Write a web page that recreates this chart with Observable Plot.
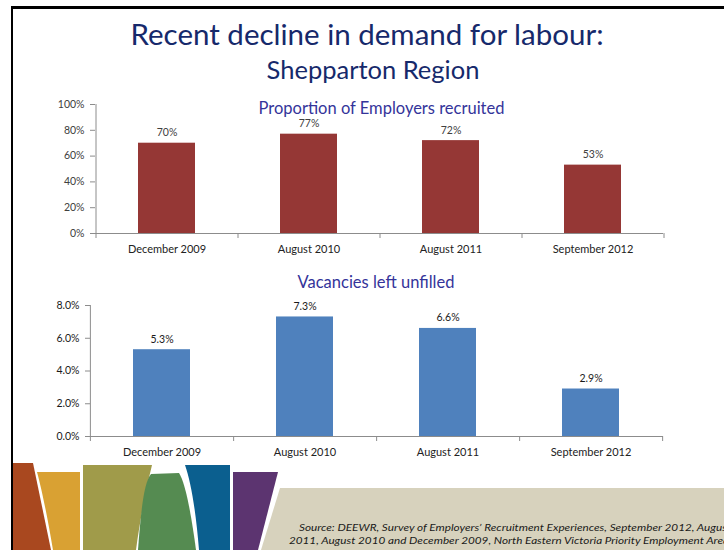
<!DOCTYPE html>
<html><head><meta charset="utf-8">
<script src="https://cdn.jsdelivr.net/npm/d3@7"></script>
<script src="https://cdn.jsdelivr.net/npm/@observablehq/plot@0.6"></script>
<style>
body{margin:0;background:#fff;}
#page{position:relative;width:724px;height:550px;overflow:hidden;font-family:Lato,sans-serif;background:#fff;}
.abs{position:absolute;}
#bl{left:11px;top:6px;width:2px;height:544px;background:#000;}
#bt{left:11px;top:6px;width:713px;height:2.5px;background:#000;}
#t1{left:0;width:734px;top:16px;text-align:center;font-size:29.5px;color:#16296b;line-height:36px;}
#t2{left:0;width:746px;top:54px;text-align:center;font-size:25.5px;color:#16296b;line-height:30px;}
.sub{font-size:16.5px;color:#34349a;text-align:center;line-height:20px;}
#s1{left:0;width:763px;top:98px;}
#s2{left:0;width:752px;top:272px;}
#c1{left:0;top:95px;}
#c2{left:0;top:295px;}
#deco{left:0;top:0;}
</style></head><body>
<div id="page">
  <div class="abs" id="t1">Recent decline in demand for labour:</div>
  <div class="abs" id="t2">Shepparton Region</div>
  <div class="abs" id="c1"></div>
  <div class="abs" id="c2"></div>
  <div class="abs sub" id="s1">Proportion of Employers recruited</div>
  <div class="abs sub" id="s2">Vacancies left unfilled</div>
  <svg class="abs" id="deco" width="724" height="550">
    <path d="M13,463 L33,463 L51,550 L13,550 Z" fill="#a9481f"/>
    <path d="M37,472 L80,472 L80,550 L53,550 C48,520 42,490 37,472 Z" fill="#d9a133"/>
    <path d="M83,465 L152,465 C146,490 140,520 136,550 L83,550 Z" fill="#a09b4a"/>
    <path d="M138,550 C141,510 144,482 151,474 L179,473 C185,482 191,512 196,550 Z" fill="#558b51"/>
    <path d="M185,465 L230,465 L230,550 L199,550 C196,512 191,482 185,465 Z" fill="#0b5f8f"/>
    <path d="M233,472 L278,472 L258,550 L233,550 Z" fill="#5c3470"/>
    <path d="M280,488 L724,488 L724,550 L261,550 Z" fill="#d7d2bd"/>
    <text x="299" y="531" font-family="Lato" font-style="italic" font-size="10" fill="#1a1a1a" textLength="432" lengthAdjust="spacingAndGlyphs">Source: DEEWR, Survey of Employers’ Recruitment Experiences, September 2012, August</text>
    <text x="289" y="544" font-family="Lato" font-style="italic" font-size="10" fill="#1a1a1a" textLength="440" lengthAdjust="spacingAndGlyphs">2011, August 2010 and December 2009,  North Eastern Victoria Priority Employment Area</text>
  </svg>
  <div class="abs" id="bl"></div>
  <div class="abs" id="bt"></div>
</div>
<script>
const categories = ["December 2009", "August 2010", "August 2011", "September 2012"];
const employersRecruited = [70, 77, 72, 53];
const vacanciesUnfilled = [5.3, 7.3, 6.6, 2.9];
const recruitedTicks = [0, 20, 40, 60, 80, 100];
const vacancyTicks = [0, 2, 4, 6, 8];

const axisColor = "#8c8c8c";

function makeChart({values, ticks, tickFmt, valueFmt, color, textColor, marginLeft, marginTop, marginBottom}) {
  const width = 724, height = 170, marginRight = 61;
  const data = categories.map((c, i) => ({cat: c, v: values[i]}));
  const step = (width - marginLeft - marginRight) / categories.length;
  const yMax = ticks[ticks.length - 1];
  return Plot.plot({
    width, height, marginLeft, marginRight, marginTop, marginBottom,
    style: {background: "transparent", fontFamily: "Lato, sans-serif", fontSize: "10.5px", color: textColor},
    x: {domain: categories, paddingInner: 0.6, paddingOuter: 0.3, label: null},
    y: {domain: [0, yMax], label: null},
    marks: [
      Plot.barY(data, {x: "cat", y: "v", fill: color}),
      Plot.ruleY([0], {stroke: axisColor}),
      Plot.ruleX([categories[0]], {dx: -step / 2, y1: yMax, y2: 0, insetBottom: -5, stroke: axisColor}),
      Plot.ruleX(categories, {x: d => d, dx: step / 2, y1: 0, y2: 0, insetBottom: -5, stroke: axisColor}),
      Plot.axisY({ticks, tickFormat: tickFmt, tickSize: 5, tickPadding: 6, stroke: axisColor, fill: textColor, label: null}),
      Plot.axisX({tickSize: 0, tickPadding: 12, fill: "#222", fontSize: 11, label: null}),
      Plot.text(data, {x: "cat", y: "v", text: d => valueFmt(d.v), dy: -7, lineAnchor: "bottom", fill: textColor})
    ]
  });
}

document.getElementById("c1").appendChild(makeChart({
  values: employersRecruited, ticks: recruitedTicks,
  tickFmt: d => d + "%", valueFmt: d => d + "%",
  color: "#953735", textColor: "#404040",
  marginLeft: 95, marginTop: 9, marginBottom: 32
}));
document.getElementById("c2").appendChild(makeChart({
  values: vacanciesUnfilled, ticks: vacancyTicks,
  tickFmt: d => d.toFixed(1) + "%", valueFmt: d => d.toFixed(1) + "%",
  color: "#4f81bd", textColor: "#1a1a1a",
  marginLeft: 90, marginTop: 10, marginBottom: 29
}));
</script>
</body></html>
